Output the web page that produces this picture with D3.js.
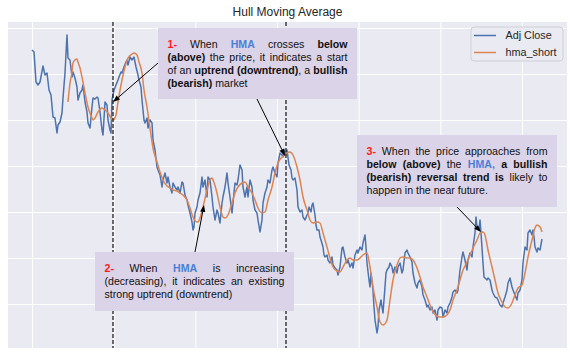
<!DOCTYPE html>
<html><head><meta charset="utf-8">
<script src="https://cdn.jsdelivr.net/npm/d3@7"></script>
<style>body{margin:0;background:#fff;} svg{display:block;font-family:"Liberation Sans",Arial,sans-serif;}</style>
</head><body><svg id="c" width="570" height="355"></svg>
<script>
const chartTitle = "Hull Moving Average";
const seriesNames = ["Adj Close", "hma_short"];
// [day, value]
const adjClose = [[0,150],[2,149],[4,134],[6,132.5],[8,134],[11,142],[13,137.5],[15,138.5],[17,130],[19,127.5],[21,116.5],[23,116],[25,108.5],[26,112.5],[28,114],[30,118.5],[31,126],[33,138.5],[35,157.5],[36,146],[38,145],[40,136.5],[41,139],[43,136],[45,131.5],[46,125],[48,128.5],[50,130],[51,132.5],[53,124],[55,119],[56,113.5],[58,111],[60,121.5],[61,126],[63,125.5],[65,126.5],[66,126],[68,119],[70,110],[71,107.5],[73,124],[75,122.5],[76,115],[78,110],[79,108.5],[80,125],[82,130],[84,132.5],[86,135],[87,136.5],[89,139],[90,138.5],[92,141.5],[94,144],[95,145],[96,142.5],[98,146.5],[100,145],[102,146.5],[104,141.5],[106,137.5],[107,135],[109,131.5],[110,125],[112,115],[113,113.5],[115,116],[116,111],[118,115],[120,113.5],[121,105],[123,100],[125,91.5],[126,90],[128,87.5],[130,81.5],[131,85],[133,88.5],[135,83.5],[136,86.5],[138,81.5],[140,78.5],[141,83.5],[143,81.5],[145,80],[146,81.5],[148,78.5],[150,84],[151,83.5],[153,77.5],[155,75],[156,72.5],[158,68.5],[160,64],[161,60],[162,61.5],[163,68.5],[165,71.5],[166,75],[168,78.5],[170,86.5],[171,81.5],[173,85],[175,76.5],[176,86.5],[178,85],[180,76.5],[181,71.5],[183,65],[185,70],[186,68.5],[188,63.5],[190,73.5],[191,76.5],[193,81.5],[195,88.5],[196,83.5],[198,76.5],[200,68.5],[201,73.5],[203,83.5],[205,82.5],[206,85],[208,92.5],[210,90],[211,81.5],[213,76.5],[215,81.5],[216,76.5],[218,85],[220,81.5],[221,75],[223,70],[225,68.5],[226,65],[228,59],[230,65],[231,73.5],[233,78.5],[235,81.5],[236,85],[238,83.5],[240,90],[241,91.5],[243,88.5],[245,86.5],[246,93.5],[248,98.5],[250,97.5],[251,96.5],[252,100],[253,97.5],[255,100],[257,92.5],[259,90],[260,86],[261,85],[263,86],[265,80],[266,71.5],[268,69],[270,70],[271,66.5],[273,65],[275,67.5],[276,68.5],[277,71.5],[279,69],[280,72.5],[281,73.5],[283,67.5],[284,62.5],[285,60],[287,60],[288,56.5],[289,55],[291,51.5],[292,47.5],[293,46.5],[295,47.5],[296,45],[298,43.5],[300,46.5],[301,42.5],[303,41],[305,40],[306,37.5],[308,41.5],[310,51],[311,51.5],[313,46.5],[315,43.5],[316,45],[318,41.5],[320,43.5],[321,41],[323,47.5],[325,50],[326,48.5],[328,51.5],[330,50],[331,53.5],[333,57.5],[334,51.5],[335,43.5],[337,35],[338,31.5],[339,38.5],[341,30],[342,21.5],[343,15],[345,8.5],[346,11.5],[347,20],[349,25],[350,21.5],[351,18.5],[353,31.5],[354,38.5],[355,40],[357,41.5],[358,43.5],[360,41.5],[361,38.5],[363,41.5],[365,38.5],[366,41.5],[368,43.5],[370,38.5],[371,40],[373,48.5],[375,50],[376,48.5],[378,46.5],[380,44],[381,38.5],[383,33.5],[385,31],[386,33.5],[388,35],[390,31.5],[391,27.5],[393,25],[395,21.5],[396,22.5],[398,20],[400,21.5],[401,18.5],[403,20],[405,15],[406,20],[408,21.5],[410,21],[411,16.5],[413,20],[415,18.5],[416,21.5],[418,23.5],[420,26.5],[421,29],[423,30],[425,28.5],[426,30],[428,40],[430,46.5],[431,49],[433,45],[435,40],[436,45],[438,48.5],[440,46.5],[441,51.5],[443,58.5],[444,66.5],[445,61.5],[447,60],[448,65],[449,58.5],[451,43.5],[452,36.5],[453,36],[455,35],[456,36],[458,35],[460,30],[461,28.5],[463,26.5],[465,26],[466,25],[468,22.5],[470,21.5],[471,23.5],[473,26.5],[475,30],[476,33.5],[478,36],[480,31.5],[481,30],[483,27.5],[485,25],[486,28.5],[488,30],[490,35],[491,43.5],[493,51.5],[495,50],[496,58.5],[498,60],[500,57.5],[501,60],[502,56.5],[503,51.5],[505,49],[506,51],[508,50],[510,55.5]];
const hmaShort = [[36,124],[38,133.5],[40,139],[41,143.5],[43,145],[45,145.5],[46,144],[48,141],[50,136.5],[53,128.5],[56,121.5],[60,116],[61,115],[63,116],[66,119],[70,121],[73,120],[76,118.5],[79,116],[81,115],[84,117.5],[86,124],[90,135],[93,141.5],[96,146],[100,148],[102,148.5],[105,147.5],[107,144],[110,138.5],[112,130],[115,121.5],[118,111],[121,101],[125,94],[128,89],[131,85],[135,82],[138,81],[141,80],[145,79.5],[148,78.5],[151,77.5],[155,75],[158,71],[161,66.5],[165,64],[166,64],[168,66],[171,71.5],[175,80],[178,85],[180,86],[181,85],[185,78.5],[188,71.5],[191,66.5],[193,66],[196,67.5],[200,73.5],[203,78.5],[206,81.5],[210,83.5],[213,84],[216,81.5],[220,78.5],[223,75],[226,71],[230,68.5],[233,69],[236,75],[240,81.5],[243,88.5],[246,93.5],[250,96.5],[253,97.5],[255,98.5],[258,99],[261,97.5],[265,91.5],[268,85],[271,76.5],[275,70],[278,65],[281,63.5],[285,64],[288,63.5],[291,58.5],[295,51.5],[298,46],[301,41.5],[305,39.5],[308,39],[311,41.5],[315,45],[318,46],[321,45],[325,45],[328,46],[331,47.5],[335,48.5],[338,41.5],[341,31.5],[345,21.5],[348,14],[351,12.5],[355,15],[358,25],[361,35],[365,42.5],[368,46],[371,46.5],[375,46],[378,46],[381,45],[385,41],[388,36.5],[391,31.5],[395,26.5],[398,22.5],[401,19],[405,17],[408,16.5],[411,16.5],[415,17.5],[418,20],[421,25],[425,30],[428,35],[431,40],[435,44],[438,47.5],[441,51],[445,55],[448,58.5],[451,59],[453,57.5],[456,50],[460,41.5],[463,35],[466,28.5],[470,24],[473,21.5],[476,21],[480,23.5],[483,27.5],[486,31],[490,32.5],[493,38.5],[496,46.5],[500,55],[503,61],[505,62.5],[508,61.5],[510,59]];
const signalDays = [81, 254];
const xGridDays = d3.range(0, 491, 490/6);
const yGridValues = d3.range(23, 162, 23);
// notes: box [x0,x1,yTop,yBottom] in data units; word markup "s:text" (n normal, b bold, r red, h HMA blue), segments joined by |
const notes = [
  {box:[126,325,161,125.5], lines:[
    "r:1- When h:HMA crosses b:below",
    "b:(above) the price, it indicates a start",
    "of an b:uptrend b:(downtrend)|n:, a b:bullish",
    "b:(bearish) market"],
   arrows:[[[126,143.5],[81,124]],[[225,125.5],[253,97]]]},
  {box:[63,262,49,19.5], lines:[
    "r:2- When h:HMA is increasing",
    "(decreasing), it indicates an existing",
    "strong uptrend (downtrend)"],
   arrows:[[[163,49],[172,72.5]]]},
  {box:[325,525,107.5,71.5], lines:[
    "r:3- When the price approaches from",
    "b:below b:(above) the h:HMA, b:a b:bullish",
    "b:(bearish) b:reversal b:trend b:is likely to",
    "happen in the near future."],
   arrows:[[[425,71.5],[449,59]]]}
];

const svg = d3.select("#c");
const W = 570, H = 355;
const L = 8, R = 567, T = 22, B = 348;
const x = d3.scaleLinear().domain([-24, 535]).range([L, R]);
const y = d3.scaleLinear().domain([1, 164]).range([B, T]);

svg.append("rect").attr("x", L).attr("y", T).attr("width", R-L).attr("height", B-T).attr("fill", "#eaeaf2");

const gx = svg.append("g").attr("transform", `translate(0,${B})`)
  .call(d3.axisBottom(x).tickValues(xGridDays).tickSize(-(B-T)).tickFormat(""));
const gy = svg.append("g").attr("transform", `translate(${L},0)`)
  .call(d3.axisLeft(y).tickValues(yGridValues).tickSize(-(R-L)).tickFormat(""));
[gx, gy].forEach(g => { g.select(".domain").remove(); g.selectAll("line").attr("stroke", "#fff").attr("stroke-width", 1); });

const clip = svg.append("clipPath").attr("id", "pc").append("rect").attr("x", L).attr("y", T).attr("width", R-L).attr("height", B-T);
const plot = svg.append("g").attr("clip-path", "url(#pc)");

const lineGen = d3.line().x(d => x(d[0])).y(d => y(d[1]));
plot.append("path").datum(adjClose).attr("d", lineGen).attr("fill", "none")
  .attr("stroke", "#4c72b0").attr("stroke-width", 1.5).attr("stroke-linejoin", "round");
plot.append("path").datum(hmaShort).attr("d", lineGen.curve(d3.curveMonotoneX)).attr("fill", "none")
  .attr("stroke", "#dd8452").attr("stroke-width", 1.5);

plot.selectAll("line.sig").data(signalDays).join("line").attr("class", "sig")
  .attr("x1", d => x(d)).attr("x2", d => x(d)).attr("y1", T).attr("y2", B)
  .attr("stroke", "#111").attr("stroke-width", 1.2).attr("stroke-dasharray", "4,2");

// title
svg.append("text").attr("x", (L+R)/2).attr("y", 15.5).attr("text-anchor", "middle")
  .attr("font-size", 12).attr("fill", "#262626").text(chartTitle);

// annotations
const FS = 10.6;
const styleOf = s => ({
  n: {w: "normal", c: "#111"}, b: {w: "bold", c: "#111"},
  r: {w: "bold", c: "#ff1a1a"}, h: {w: "bold", c: "#4a80d8"}
}[s]);
const meas = svg.append("text").attr("font-size", FS).attr("x", -1000).attr("y", -1000);
function measure(t, w) { meas.attr("font-weight", w).text(t); return meas.node().getComputedTextLength(); }
function parseWord(w) {
  return w.split("|").map(seg => {
    const m = seg.match(/^([nbrh]):(.*)$/);
    return m ? {s: m[1], t: m[2]} : {s: "n", t: seg};
  });
}
const spaceW = measure("a a", "normal") - measure("aa", "normal");
const ann = svg.append("g");
notes.forEach(nt => {
  const [bx0, bx1, byT, byB] = nt.box;
  const px0 = x(bx0), px1 = x(bx1), pyT = y(byT), pyB = y(byB);
  ann.append("rect").attr("x", px0).attr("y", pyT).attr("width", px1-px0).attr("height", pyB-pyT)
    .attr("fill", "#dbd3e8");
  const pad = 9.5, tw = (px1-px0) - 2*pad;
  nt.lines.forEach((ln, i) => {
    const last = i === nt.lines.length - 1;
    let words;
    if (last && !ln.includes(":")) words = [[{s: "n", t: ln}]];
    else words = ln.split(" ").map(parseWord);
    const ww = words.map(wd => wd.reduce((a, sg) => a + measure(sg.t, styleOf(sg.s).w), 0));
    const total = d3.sum(ww);
    const gap = (!last && words.length > 1) ? (tw - total) / (words.length - 1) : spaceW;
    let cx = px0 + pad;
    const by = pyT + 19.5 + 13 * i;
    const t = ann.append("text").attr("font-size", FS).attr("y", by);
    words.forEach((wd, k) => {
      let sx = cx;
      wd.forEach(sg => {
        const st = styleOf(sg.s);
        t.append("tspan").attr("x", sx).attr("font-weight", st.w).attr("fill", st.c).style("white-space", "pre").text(sg.t);
        sx += measure(sg.t, st.w);
      });
      cx += ww[k] + gap;
    });
  });
  nt.arrows.forEach(([a, b]) => {
    const x1 = x(a[0]), y1 = y(a[1]), x2 = x(b[0]), y2 = y(b[1]);
    const ang = Math.atan2(y2 - y1, x2 - x1), hl = 7, hw = 2.6;
    const bxp = x2 - hl * Math.cos(ang), byp = y2 - hl * Math.sin(ang);
    ann.append("line").attr("x1", x1).attr("y1", y1).attr("x2", bxp).attr("y2", byp)
      .attr("stroke", "#000").attr("stroke-width", 1);
    const pts = [[x2, y2],
      [bxp + hw * Math.sin(ang), byp - hw * Math.cos(ang)],
      [bxp - hw * Math.sin(ang), byp + hw * Math.cos(ang)]];
    ann.append("path").attr("d", "M" + pts.map(p => p.join(",")).join("L") + "Z").attr("fill", "#000");
  });
});
meas.remove();

// legend
const lg = svg.append("g");
lg.append("rect").attr("x", 471).attr("y", 27).attr("width", 92).attr("height", 34).attr("rx", 3)
  .attr("fill", "#eaeaf2").attr("stroke", "#cfcfd6").attr("stroke-width", 1);
const legendColors = ["#4c72b0", "#dd8452"];
seriesNames.forEach((nm, i) => {
  const yy = 35.5 + 17 * i;
  lg.append("line").attr("x1", 474).attr("x2", 496).attr("y1", yy).attr("y2", yy)
    .attr("stroke", legendColors[i]).attr("stroke-width", 1.5);
  lg.append("text").attr("x", 505.5).attr("y", yy + 3.8).attr("font-size", 10.8).attr("fill", "#262626").text(nm);
});
</script></body></html>
